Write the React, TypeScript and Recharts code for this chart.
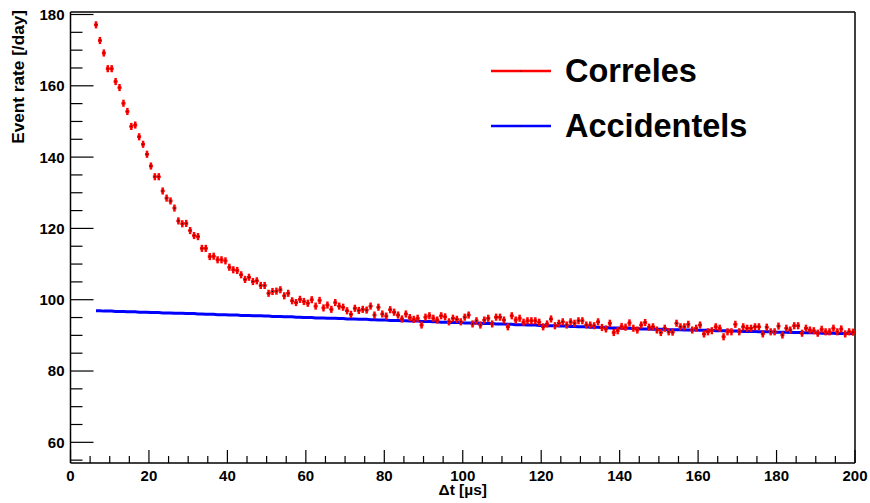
import React from 'react';
import {
  ComposedChart,
  XAxis,
  YAxis,
  Scatter,
  Line,
  ErrorBar,
  ReferenceLine,
  Legend,
  Label,
} from 'recharts';

// Histogram bins: 1 µs wide, first bin centre at 6.5 µs, last at 199.5 µs
const FIRST_BIN_CENTER = 6.5;
const BIN_WIDTH = 1;

// "Correles" event rate per bin [/day]
const CORRELES: number[] = [
  177.1, 172.7, 169.2, 164.8, 164.8, 161.2, 159.5, 155.1, 152.8, 148.6,
  149.0, 145.7, 143.6, 140.8, 137.5, 134.5, 134.5, 130.5, 128.5, 127.7,
  125.7, 122.1, 121.3, 121.4, 119.4, 118.0, 117.7, 114.4, 114.4, 112.1,
  112.2, 111.2, 111.2, 110.9, 109.1, 108.4, 108.2, 107.0, 105.7, 106.3,
  105.1, 105.3, 104.0, 104.0, 101.8, 102.3, 102.4, 102.8, 101.1, 101.8,
  99.7, 99.2, 100.1, 99.5, 99.0, 100.0, 98.2, 99.8, 97.7, 98.5,
  97.3, 99.2, 98.2, 97.9, 96.9, 95.9, 97.6, 97.0, 97.3, 97.1,
  98.2, 95.7, 97.9, 96.0, 95.4, 97.2, 96.5, 95.7, 94.6, 96.0,
  95.0, 94.5, 94.8, 92.9, 95.1, 95.5, 94.8, 94.3, 95.5, 95.2,
  93.8, 94.8, 94.5, 93.8, 95.1, 95.7, 93.2, 94.1, 92.9, 94.3,
  94.8, 93.2, 95.1, 95.1, 94.3, 92.4, 95.5, 94.3, 94.8, 93.7,
  94.1, 94.1, 94.1, 93.7, 92.4, 93.2, 94.6, 92.7, 93.4, 93.8,
  92.9, 93.8, 93.4, 94.1, 94.1, 92.9, 92.9, 92.7, 93.8, 92.2,
  91.8, 93.4, 90.8, 91.3, 92.5, 92.3, 93.5, 92.0, 91.5, 92.9,
  93.6, 92.3, 92.4, 91.5, 90.8, 92.0, 91.0, 90.9, 93.4, 92.4,
  92.4, 93.1, 91.5, 92.0, 92.9, 90.4, 91.0, 91.3, 92.4, 92.0,
  89.6, 91.0, 91.0, 93.1, 91.0, 92.4, 92.0, 92.0, 92.4, 92.4,
  90.4, 92.3, 91.0, 91.0, 92.6, 90.1, 92.0, 91.5, 92.7, 92.7,
  90.6, 92.0, 91.5, 91.3, 90.6, 91.7, 91.0, 91.0, 92.0, 91.0,
  91.8, 90.4, 91.0, 90.9,
];

// "Accidentels" event rate per bin [/day]
const ACCIDENTELS: number[] = [
  96.9, 96.9, 96.8, 96.8, 96.8, 96.7, 96.7, 96.7, 96.6, 96.6, 96.6, 96.5,
  96.5, 96.5, 96.4, 96.4, 96.4, 96.3, 96.3, 96.3, 96.2, 96.2, 96.2, 96.1,
  96.1, 96.1, 96.0, 96.0, 95.9, 95.9, 95.9, 95.8, 95.8, 95.8, 95.7, 95.7,
  95.7, 95.6, 95.6, 95.6, 95.5, 95.5, 95.5, 95.4, 95.4, 95.3, 95.3, 95.3,
  95.2, 95.2, 95.2, 95.1, 95.1, 95.0, 95.0, 95.0, 94.9, 94.9, 94.9, 94.8,
  94.8, 94.8, 94.7, 94.7, 94.6, 94.6, 94.6, 94.5, 94.5, 94.5, 94.4, 94.4,
  94.3, 94.3, 94.3, 94.2, 94.2, 94.2, 94.1, 94.1, 94.0, 94.0, 94.0, 93.9,
  93.9, 93.9, 93.8, 93.8, 93.7, 93.7, 93.7, 93.6, 93.6, 93.6, 93.5, 93.5,
  93.5, 93.4, 93.4, 93.3, 93.3, 93.3, 93.2, 93.2, 93.2, 93.1, 93.1, 93.0,
  93.0, 93.0, 92.9, 92.9, 92.9, 92.8, 92.8, 92.7, 92.7, 92.7, 92.6, 92.6,
  92.6, 92.5, 92.5, 92.4, 92.4, 92.4, 92.3, 92.3, 92.3, 92.2, 92.2, 92.1,
  92.1, 92.1, 92.0, 92.0, 92.0, 91.9, 91.9, 91.8, 91.8, 91.8, 91.7, 91.7,
  91.7, 91.7, 91.6, 91.6, 91.6, 91.6, 91.5, 91.5, 91.5, 91.5, 91.4, 91.4,
  91.4, 91.4, 91.3, 91.3, 91.3, 91.3, 91.2, 91.2, 91.2, 91.1, 91.1, 91.1,
  91.1, 91.0, 91.0, 91.0, 91.0, 90.9, 90.9, 90.9, 90.9, 90.8, 90.8, 90.8,
  90.8, 90.7, 90.7, 90.7, 90.7, 90.6, 90.6, 90.6, 90.6, 90.5, 90.5, 90.5,
  90.5, 90.5,
];

// Statistical error on the Correles rate [/day]
const CORRELES_ERR = 1.0;

// Axis ticks
const X_LABELS = [0, 20, 40, 60, 80, 100, 120, 140, 160, 180, 200];
const Y_LABELS = [60, 80, 100, 120, 140, 160, 180];
const X_DOMAIN: [number, number] = [0, 200];
const Y_DOMAIN: [number, number] = [54.2, 180.7];

const SERIES_NAMES = ['Correles', 'Accidentels'];
const SERIES_COLORS = ['#ff0000', '#0000ff'];

const FONT = '"Liberation Sans", Arial, Helvetica, sans-serif';

const binCenter = (i: number) => FIRST_BIN_CENTER + i * BIN_WIDTH;

const correlesData = CORRELES.map((v, i) => ({
  x: binCenter(i),
  y: v,
  ex: BIN_WIDTH / 2,
  ey: CORRELES_ERR,
}));
const accidentelsData = ACCIDENTELS.map((v, i) => ({ x: binCenter(i), y: v }));

const xTicks: number[] = [];
for (let t = X_DOMAIN[0]; t <= X_DOMAIN[1]; t += 5) xTicks.push(t);
const yTicks: number[] = [];
for (let t = 55; t <= 180; t += 5) yTicks.push(t);

const XTick = (props: any) => {
  const { x, y, payload } = props;
  const v = payload.value;
  const major = X_LABELS.includes(v);
  return (
    <g>
      <line x1={x} x2={x} y1={y} y2={y - (major ? 13 : 7)} stroke="#000" strokeWidth={1.2} />
      {major && (
        <text x={x} y={y + 18} textAnchor="middle" fontFamily={FONT} fontWeight="bold" fontSize={15} fill="#000">
          {v}
        </text>
      )}
    </g>
  );
};

const YTick = (props: any) => {
  const { x, y, payload } = props;
  const v = payload.value;
  const major = Y_LABELS.includes(v);
  return (
    <g>
      <line x1={x} x2={x + (major ? 23 : 12)} y1={y} y2={y} stroke="#000" strokeWidth={1.2} />
      {major && (
        <text x={x - 6} y={y + 5.4} textAnchor="end" fontFamily={FONT} fontWeight="bold" fontSize={15} fill="#000">
          {v}
        </text>
      )}
    </g>
  );
};

const PointShape = (props: any) => {
  const { cx, cy } = props;
  if (cx == null || cy == null) return null;
  return (
    <g>
      <circle cx={cx} cy={cy} r={1.7} fill="#ff0000" />
      <rect x={cx - 0.5} y={cy - 0.5} width={1} height={1} fill="#000" />
    </g>
  );
};

const LegendContent = () => (
  <div style={{ fontFamily: FONT }}>
    {SERIES_NAMES.map((name, i) => (
      <div key={name} style={{ display: 'flex', alignItems: 'center', height: 55 }}>
        <svg width={74} height={20} style={{ display: 'block' }}>
          <line x1={0} x2={60} y1={10} y2={10} stroke={SERIES_COLORS[i]} strokeWidth={2.5} />
          <rect x={29.5} y={9.5} width={1} height={1} fill="#000" />
        </svg>
        <span style={{ fontSize: 32.5, fontWeight: 'bold', color: '#000', lineHeight: '40px' }}>{name}</span>
      </div>
    ))}
  </div>
);

export default function App() {
  return (
    <div style={{ position: 'absolute', left: 0, top: 0, width: 870, height: 503, background: '#fff' }}>
      <ComposedChart
        width={870}
        height={503}
        margin={{ top: 12, right: 15, bottom: 10, left: 0 }}
      >
        <XAxis
          type="number"
          dataKey="x"
          domain={X_DOMAIN}
          ticks={xTicks}
          interval={0}
          allowDataOverflow
          height={30}
          tickSize={0}
          tickMargin={0}
          tickLine={false}
          tick={<XTick />}
          axisLine={{ stroke: '#000', strokeWidth: 1.5 }}
          label={
            <Label
              content={(p: any) => {
                const vb = p.viewBox || { x: 70, y: 463, width: 785 };
                return (
                  <text
                    x={vb.x + vb.width / 2}
                    y={vb.y + 32}
                    textAnchor="middle"
                    fontFamily={FONT}
                    fontWeight="bold"
                    fontSize={15.5}
                    fill="#000"
                  >
                    Δt [µs]
                  </text>
                );
              }}
            />
          }
        />
        <YAxis
          type="number"
          dataKey="y"
          domain={Y_DOMAIN}
          ticks={yTicks}
          interval={0}
          allowDataOverflow
          width={70.5}
          tickSize={0}
          tickMargin={0}
          tickLine={false}
          tick={<YTick />}
          axisLine={{ stroke: '#000', strokeWidth: 1.5 }}
          label={
            <Label
              content={() => (
                <text
                  x={24}
                  y={10}
                  transform="rotate(-90, 24, 10)"
                  textAnchor="end"
                  fontFamily={FONT}
                  fontWeight="bold"
                  fontSize={17.2}
                  fill="#000"
                >
                  Event rate [/day]
                </text>
              )}
            />
          }
        />
        <ReferenceLine x={X_DOMAIN[1]} stroke="#000" strokeWidth={1.5} />
        <ReferenceLine y={Y_DOMAIN[1]} stroke="#000" strokeWidth={1.5} />
        <Line
          name={SERIES_NAMES[1]}
          data={accidentelsData}
          dataKey="y"
          type="linear"
          stroke={SERIES_COLORS[1]}
          strokeWidth={3}
          dot={false}
          activeDot={false}
          isAnimationActive={false}
        />
        <Scatter
          name={SERIES_NAMES[0]}
          data={correlesData}
          dataKey="y"
          fill={SERIES_COLORS[0]}
          shape={<PointShape />}
          isAnimationActive={false}
        >
          <ErrorBar dataKey="ey" direction="y" width={0} stroke={SERIES_COLORS[0]} strokeWidth={2.5} isAnimationActive={false} />
          <ErrorBar dataKey="ex" direction="x" width={0} stroke={SERIES_COLORS[0]} strokeWidth={2.5} isAnimationActive={false} />
        </Scatter>
        <Legend
          layout="vertical"
          align="center"
          verticalAlign="middle"
          content={<LegendContent />}
          wrapperStyle={{ left: 491, top: 43, width: 320 }}
        />
      </ComposedChart>
    </div>
  );
}
